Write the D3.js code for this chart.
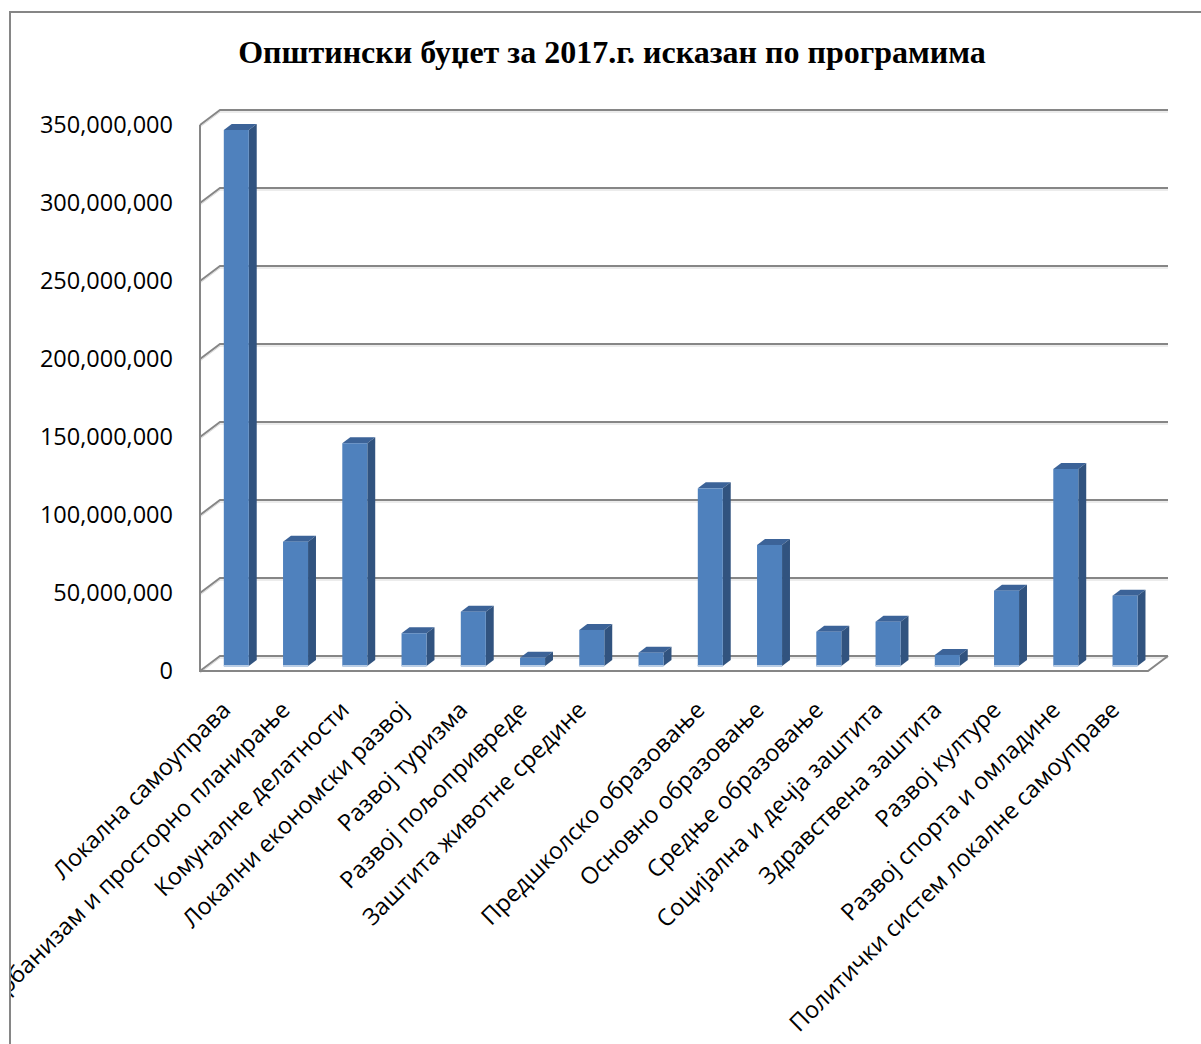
<!DOCTYPE html>
<html>
<head>
<meta charset="utf-8">
<script src="https://cdn.jsdelivr.net/npm/d3@7"></script>
<style>
  body { margin: 0; background: #fff; }
  svg { display: block; }
</style>
</head>
<body>
<div id="chart"></div>
<script>
// Program names (the 8th category has no label in the original)
const categories = [
    'Локална самоуправа',
    'Урбанизам и просторно планирање',
    'Комуналне делатности',
    'Локални економски развој',
    'Развој туризма',
    'Развој пољопривреде',
    'Заштита животне средине',
    '',
    'Предшколско образовање',
    'Основно образовање',
    'Средње образовање',
    'Социјална и дечја заштита',
    'Здравствена заштита',
    'Развој културе',
    'Развој спорта и омладине',
    'Политички систем локалне самоуправе'
];

// Budget per program (dinars)
const values = [
    343600000, 79700000, 142800000, 21000000, 34800000, 5300000, 23100000, 8500000,
    113900000, 77600000, 22000000, 28400000, 7100000, 48300000, 126300000, 45100000
];

const yTicks = [0, 50000000, 100000000, 150000000, 200000000, 250000000, 300000000, 350000000];

const title = 'Општински буџет за 2017.г. исказан по програмима';

function drawChart(containerId)
{
    const width = 1201;
    const height = 1044;

    // plot floor: front-left corner and the 3d depth offset
    const plot = { left: 200, right: 1148, top: 125, bottom: 671 };
    const depth = { dx: 20, dy: -15 };
    const barFrom = 1 / 3;   // bar front face, as a fraction of the depth
    const barTo = 0.73;      // bar back face

    const svg = d3.select(containerId)
        .append('svg')
        .attr('width', width)
        .attr('height', height);

    svg.append('defs').append('clipPath')
        .attr('id', 'area')
        .append('rect')
        .attr('x', 11).attr('y', 13)
        .attr('width', width).attr('height', height);

    // chart area border
    svg.append('path')
        .attr('d', `M10,${height + 5}V12H${width + 5}`)
        .attr('fill', 'none')
        .attr('stroke', '#868686')
        .attr('stroke-width', 2);

    const xScale = d3.scaleBand()
        .domain(d3.range(categories.length))
        .range([plot.left, plot.right])
        .padding(0);

    const yScale = d3.scaleLinear()
        .domain([0, 350000000])
        .range([plot.bottom, plot.top]);

    const barWidth = 25;

    // project a point given front x, value and depth fraction
    const px = (x, f) => x + depth.dx * f;
    const py = (v, f) => yScale(v) + depth.dy * f;

    // gridlines: left wall diagonal + back wall
    const grid = svg.append('g');
    grid.selectAll('path.shadow')
        .data(yTicks)
        .enter()
        .append('path')
        .attr('class', 'shadow')
        .attr('d', d => `M${px(plot.left, 0)},${py(d, 0) + 2}L${px(plot.left, 1)},${py(d, 1) + 2}H${px(plot.right, 1)}`)
        .attr('fill', 'none')
        .attr('stroke', '#d9d9d9')
        .attr('stroke-width', 1);
    grid.selectAll('path.line')
        .data(yTicks)
        .enter()
        .append('path')
        .attr('class', 'line')
        .attr('d', d => `M${px(plot.left, 0)},${py(d, 0)}L${px(plot.left, 1)},${py(d, 1)}H${px(plot.right, 1)}`)
        .attr('fill', 'none')
        .attr('stroke', '#868686')
        .attr('stroke-width', 2);

    // left wall edge and floor front edge
    svg.append('path')
        .attr('d', `M${plot.left},${yScale(350000000)}V${plot.bottom}H${plot.right}L${px(plot.right, 1)},${py(0, 1)}`)
        .attr('fill', 'none')
        .attr('stroke', '#868686')
        .attr('stroke-width', 2);

    // bars
    const bars = svg.append('g')
        .selectAll('g')
        .data(values)
        .enter()
        .append('g');

    const x0 = (d, i) => px(xScale(i) + (xScale.bandwidth() - barWidth) / 2, barFrom);
    const dd = barTo - barFrom;

    // top face
    bars.append('path')
        .attr('d', (d, i) => {
            const x = x0(d, i), y = py(d, barFrom);
            return `M${x},${y}h${barWidth}l${depth.dx * dd},${depth.dy * dd}h${-barWidth}Z`;
        })
        .attr('fill', '#3c6398');

    // side face
    bars.append('path')
        .attr('d', (d, i) => {
            const x = x0(d, i) + barWidth, y = py(d, barFrom), y1 = py(0, barFrom);
            return `M${x},${y}l${depth.dx * dd},${depth.dy * dd}V${y1 + depth.dy * dd}L${x},${y1}Z`;
        })
        .attr('fill', '#31537f');

    // front face
    bars.append('rect')
        .attr('x', x0)
        .attr('y', d => py(d, barFrom))
        .attr('width', barWidth)
        .attr('height', d => py(0, barFrom) - py(d, barFrom))
        .attr('fill', '#4f81bd');

    // light reflection at the foot of each bar
    bars.append('rect')
        .attr('x', x0)
        .attr('y', d => py(0, barFrom) - 1)
        .attr('width', barWidth)
        .attr('height', 2)
        .attr('fill', '#b9cde5');

    // y axis labels
    svg.append('g')
        .selectAll('text')
        .data(yTicks)
        .enter()
        .append('text')
        .attr('x', 173)
        .attr('y', d => yScale(d))
        .attr('dy', '0.36em')
        .attr('text-anchor', 'end')
        .style('font-family', '"Open Sans", sans-serif')
        .style('font-size', '23.5px')
        .attr('fill', '#000')
        .text(d => d3.format(',')(d));

    // category labels, rotated -45deg, ending under each bar
    // (the long second label runs past the chart edge and is cut, as in the original)
    svg.append('g')
        .attr('clip-path', 'url(#area)')
        .selectAll('text')
        .data(categories)
        .enter()
        .append('text')
        .attr('transform', (d, i) => `translate(${xScale(i) + xScale.bandwidth() / 2 - 10},${699}) rotate(-45)`)
        .attr('dy', '0.75em')
        .attr('text-anchor', 'end')
        .style('font-family', '"Open Sans", sans-serif')
        .style('font-size', '23.5px')
        .attr('fill', '#000')
        .text(d => d);

    // title
    svg.append('text')
        .attr('x', 612)
        .attr('y', 63)
        .attr('text-anchor', 'middle')
        .style('font-family', '"Liberation Serif", "Times New Roman", serif')
        .style('font-weight', 'bold')
        .style('font-size', '32px')
        .attr('fill', '#000')
        .text(title);
}

drawChart('#chart');
</script>
</body>
</html>
